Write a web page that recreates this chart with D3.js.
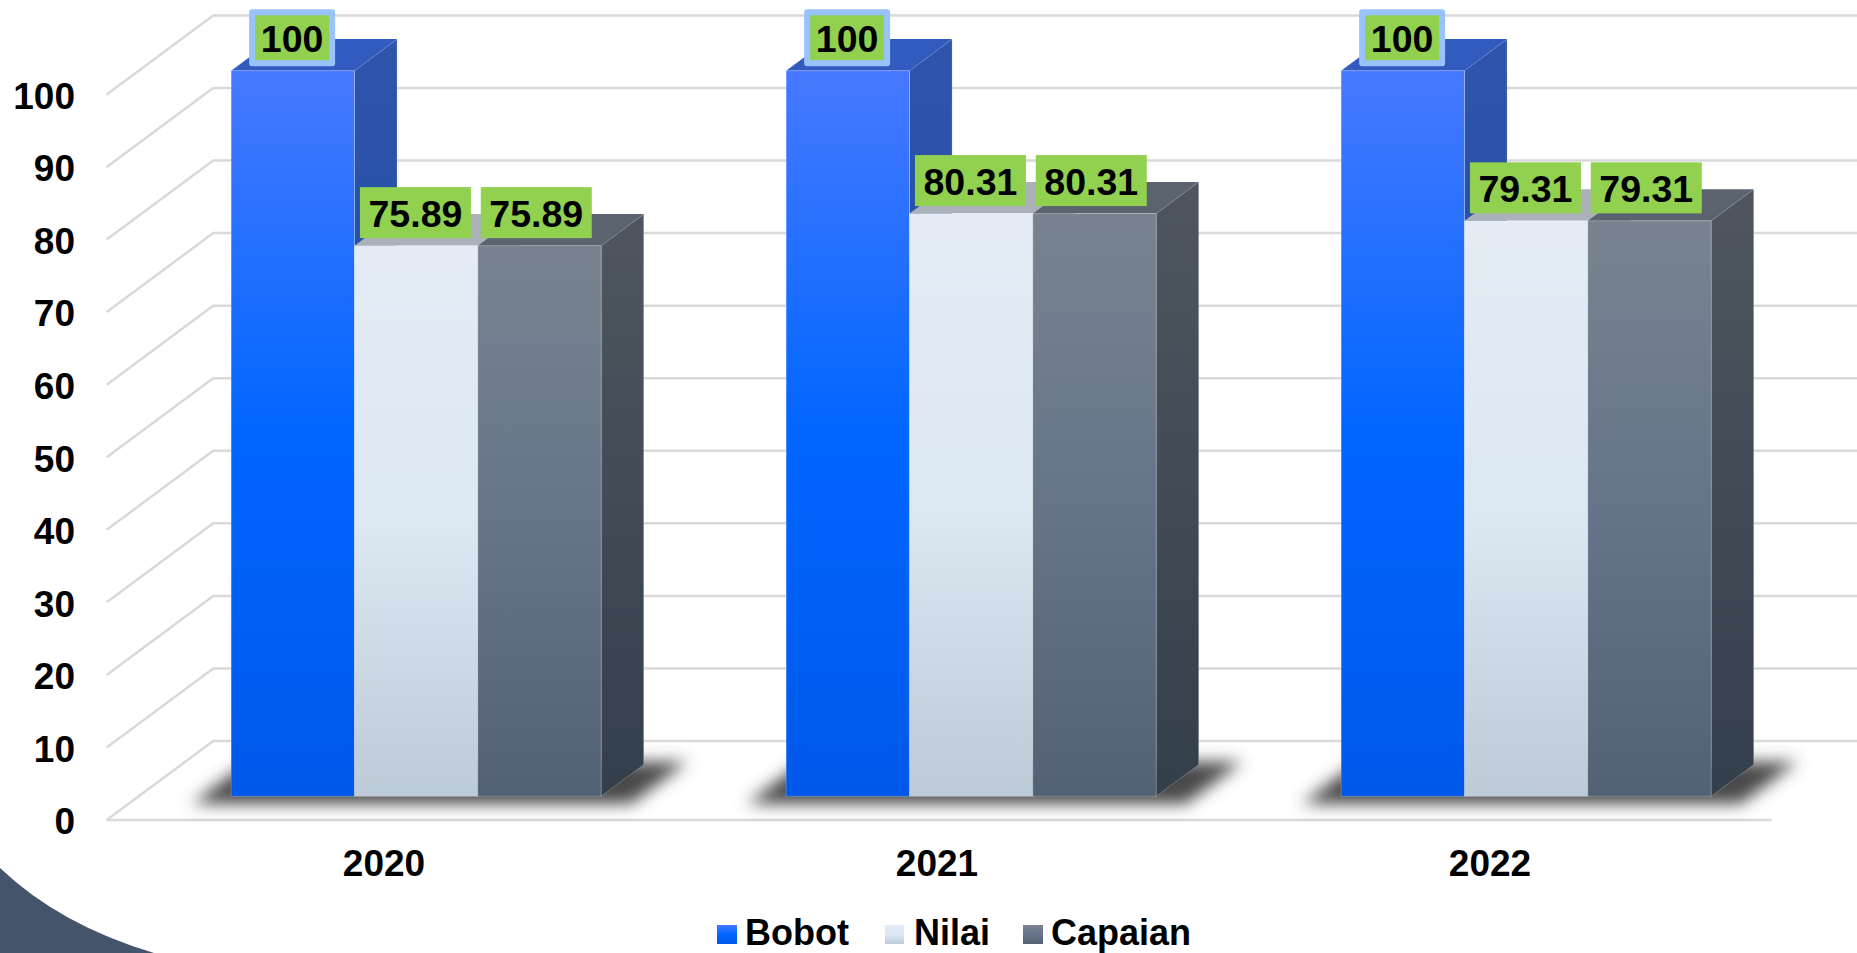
<!DOCTYPE html>
<html>
<head>
<meta charset="utf-8">
<script src="https://cdn.jsdelivr.net/npm/d3@7/dist/d3.min.js"></script>
<style>
    html, body { margin: 0; padding: 0; background: #fff; overflow: hidden; }
    svg { display: block; }
    text { font-family: "Liberation Sans", Arial, sans-serif; font-weight: bold; fill: #000; }
</style>
</head>
<body>
<div id="chart"></div>
<script>
const categories = ['2020', '2021', '2022'];
const seriesNames = ['Bobot', 'Nilai', 'Capaian'];
const bobot = [100, 100, 100];
const nilai = [75.89, 80.31, 79.31];
const capaian = [75.89, 80.31, 79.31];
const yTicks = [0, 10, 20, 30, 40, 50, 60, 70, 80, 90, 100];

const seriesValues = [bobot, nilai, capaian];

const colors = [
    { front: ['#4779ff', '#0066ff', '#0058ea'], side: ['#2f55ab', '#0f459e'], top: '#325bbf' },
    { front: ['#e4ebf5', '#dce8f2', '#bdcad7'], side: ['#8d96a0', '#6d7985'], top: '#aab1b9' },
    { front: ['#79838f', '#657489', '#536174'], side: ['#4f565f', '#343f4c'], top: '#5b646e' }
];

const width = 1857, height = 953;
const depthX = 106.5, depthY = 79;

const svg = d3.select('#chart').append('svg')
    .attr('width', width)
    .attr('height', height);

const defs = svg.append('defs');

colors.forEach((c, i) => {
    const front = defs.append('linearGradient')
        .attr('id', `front${i}`)
        .attr('x1', 0).attr('y1', 0).attr('x2', 0).attr('y2', 1);
    c.front.forEach((col, k) => {
        front.append('stop').attr('offset', k / (c.front.length - 1)).attr('stop-color', col);
    });
    const side = defs.append('linearGradient')
        .attr('id', `side${i}`)
        .attr('x1', 0).attr('y1', 0).attr('x2', 0).attr('y2', 1);
    c.side.forEach((col, k) => {
        side.append('stop').attr('offset', k).attr('stop-color', col);
    });
});

defs.append('filter')
    .attr('id', 'floorShadow')
    .attr('x', '-10%').attr('y', '-60%').attr('width', '120%').attr('height', '220%')
    .append('feGaussianBlur')
    .attr('stdDeviation', 8);

// bottom left slide decoration
svg.append('path')
    .attr('d', 'M0,868 Q60,925 154,953 L0,953 Z')
    .attr('fill', '#44546a');

const xRange = [106.7, 1771.7];

const xScale = d3.scaleBand()
    .domain(categories)
    .range(xRange)
    .paddingInner(1 / 3)
    .paddingOuter(1 / 6);

const xBand = d3.scaleBand()
    .domain(categories)
    .range([107.5, 1766.5]);

const xInner = d3.scaleBand()
    .domain(seriesNames)
    .range([0, xScale.bandwidth()]);

const yScale = d3.scaleLinear()
    .domain([0, 100])
    .range([820, 94.4]);

// oblique projection, d goes from 0 (front of the floor) to 1 (back wall)
const project = (x, y, d) => [x + depthX * d, y - depthY * d];
const poly = pts => pts.map(p => p.join(',')).join(' ');

const grid = svg.append('g');
yTicks.forEach(t => {
    const y = yScale(t);
    const a = project(xRange[0], y, 0);
    const b = project(xRange[0], y, 1);
    const c = project(xRange[1], y, 1);
    grid.append('polyline')
        .attr('points', poly([a, b, c]))
        .attr('fill', 'none')
        .attr('stroke', '#d9d9d9')
        .attr('stroke-width', 2.5);
});
grid.append('line')
    .attr('x1', xRange[0])
    .attr('x2', xRange[1])
    .attr('y1', yScale(0))
    .attr('y2', yScale(0))
    .attr('stroke', '#d9d9d9')
    .attr('stroke-width', 2.5);

const d0 = 0.3, d1 = 0.7;
const edge = 'rgba(255,255,255,0.22)';

const bars = svg.append('g');
categories.forEach((cat, c) => {
    const g = bars.append('g');
    const gx = xScale(cat);

    // shadow on the floor
    const sx0 = gx - 36, sx1 = gx + xScale.bandwidth() + 33, sy = yScale(0) + 5;
    g.append('polygon')
        .attr('points', poly([
            project(sx0, sy, 0.27), project(sx1, sy, 0.27),
            project(sx1, sy, 0.8), project(sx0, sy, 0.8)
        ]))
        .attr('fill', '#484848')
        .attr('filter', 'url(#floorShadow)');

    seriesNames.forEach((name, s) => {
        const x0 = gx + xInner(name);
        const x1 = x0 + xInner.bandwidth();
        const yTop = yScale(seriesValues[s][c]);
        const yBase = yScale(0);

        g.append('polygon')
            .attr('points', poly([
                project(x1, yTop, d0), project(x1, yTop, d1),
                project(x1, yBase, d1), project(x1, yBase, d0)
            ]))
            .attr('fill', `url(#side${s})`)
            .attr('stroke', edge);

        g.append('polygon')
            .attr('points', poly([
                project(x0, yTop, d0), project(x0, yTop, d1),
                project(x1, yTop, d1), project(x1, yTop, d0)
            ]))
            .attr('fill', colors[s].top);

        const p = project(x0, yTop, d0);
        const q = project(x1, yBase, d0);
        g.append('rect')
            .attr('x', p[0])
            .attr('y', p[1])
            .attr('width', q[0] - p[0])
            .attr('height', q[1] - p[1])
            .attr('fill', `url(#front${s})`)
            .attr('stroke', edge);
    });
});

// data labels sit on top of every bar
const labels = svg.append('g');
categories.forEach((cat, c) => {
    seriesNames.forEach((name, s) => {
        const value = seriesValues[s][c];
        const x0 = xScale(cat) + xInner(name);
        const p = project(x0 + xInner.bandwidth() / 2, yScale(value), d0);
        const cx = p[0] - 0.7 - (s === 2 ? 2.5 : 0);
        const cy = p[1] - 33;
        const txt = String(value);
        const w = txt.length === 3 ? 80 : 111;

        labels.append('rect')
            .attr('x', cx - w / 2)
            .attr('y', cy - 25.5)
            .attr('width', w)
            .attr('height', 51)
            .attr('fill', '#92d050')
            .attr('stroke', s === 0 ? '#99c2ff' : 'none')
            .attr('stroke-width', s === 0 ? 6 : 0)
            .attr('stroke-linejoin', 'round');

        labels.append('text')
            .attr('x', cx)
            .attr('y', cy + 1.5)
            .attr('dy', '.35em')
            .attr('text-anchor', 'middle')
            .style('font-size', '37.5px')
            .text(txt);
    });
});

const yAxis = svg.append('g')
    .attr('transform', 'translate(75,2)')
    .call(d3.axisLeft(yScale).tickValues(yTicks).tickSize(0).tickPadding(0));
yAxis.select('.domain').remove();
yAxis.selectAll('text').style('font-size', '37px');

const xAxis = svg.append('g')
    .attr('transform', `translate(0,${yScale(0)})`)
    .call(d3.axisBottom(xBand).tickSize(0).tickPadding(30));
xAxis.select('.domain').remove();
xAxis.selectAll('text').style('font-size', '37px');

// legend
const legendX = [717, 885, 1023];
const legendTextX = [745, 914, 1051];
const legend = svg.append('g');
seriesNames.forEach((name, s) => {
    legend.append('rect')
        .attr('x', legendX[s])
        .attr('y', 925)
        .attr('width', s === 1 ? 19 : 20)
        .attr('height', 19)
        .attr('fill', `url(#front${s})`);
    legend.append('text')
        .attr('x', legendTextX[s])
        .attr('y', 945)
        .style('font-size', '36px')
        .text(name);
});
</script>
</body>
</html>
